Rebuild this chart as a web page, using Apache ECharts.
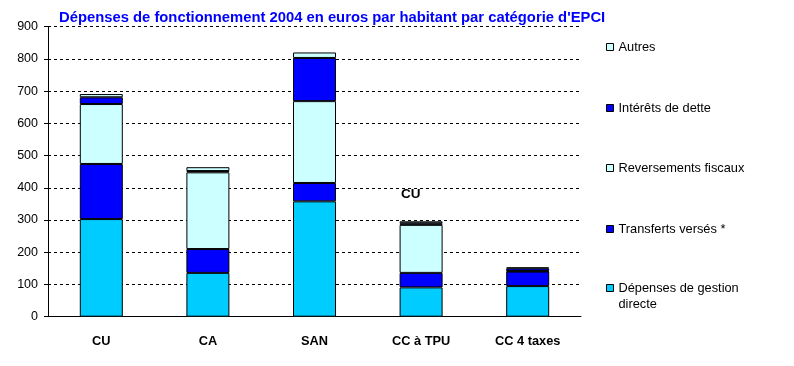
<!DOCTYPE html>
<html>
<head>
<meta charset="utf-8">
<script src="https://cdn.jsdelivr.net/npm/echarts@6/dist/echarts.min.js"></script>
<style>html,body{margin:0;padding:0;background:#fff;}#c{width:794px;height:366px;}</style>
</head>
<body>
<div id="c"></div>
<script>
const categories = ['CU', 'CA', 'SAN', 'CC à TPU', 'CC 4 taxes'];
const gestionDirecte = [303, 136, 358, 91, 95];
const transfertsVerses = [171, 74, 57, 45, 45];
const reversementsFiscaux = [186, 238, 254, 149, 2];
const interetsDette = [21, 4, 134, 5, 8];
const autres = [10, 12, 17, 6, 3];
const yTicks = [0, 100, 200, 300, 400, 500, 600, 700, 800, 900];
const titleText = "Dépenses de fonctionnement 2004 en euros par habitant par catégorie d'EPCI";
const annotationText = 'CU';

const FONT = 'Arial, "Liberation Sans", sans-serif';
const seriesDefs = [
  { name: 'Dépenses de gestion directe', data: gestionDirecte, color: '#00CCFF' },
  { name: 'Transferts versés *', data: transfertsVerses, color: '#0000FF' },
  { name: 'Reversements fiscaux', data: reversementsFiscaux, color: '#CCFFFF' },
  { name: 'Intérêts de dette', data: interetsDette, color: '#0000FF' },
  { name: 'Autres', data: autres, color: '#CCFFFF' }
];

const legendTops = { 'Autres': 40, 'Intérêts de dette': 101, 'Reversements fiscaux': 161, 'Transferts versés *': 222, 'Dépenses de gestion directe': 264 };

const chart = echarts.init(document.getElementById('c'), null, { renderer: 'canvas' });
chart.setOption({
  animation: false,
  backgroundColor: '#fff',
  title: {
    text: titleText,
    left: 59, top: 9,
    padding: 0,
    textStyle: { color: '#0000FF', fontFamily: FONT, fontSize: 14.8, fontWeight: 'bold', lineHeight: 18 }
  },
  legend: seriesDefs.map(s => ({
    data: [s.name],
    orient: 'vertical',
    left: 606,
    top: legendTops[s.name],
    padding: 0,
    selectedMode: false,
    icon: 'rect',
    itemWidth: 7,
    itemHeight: 7,
    itemGap: 4,
    itemStyle: { borderColor: '#000', borderWidth: 1 },
    formatter: n => n === 'Dépenses de gestion directe' ? '\nDépenses de gestion\ndirecte' : n,
    textStyle: s.name === 'Dépenses de gestion directe'
      ? { color: '#000', fontFamily: FONT, fontSize: 12.8, lineHeight: 16 }
      : { color: '#000', fontFamily: FONT, fontSize: 12.8, lineHeight: 14 }
  })),
  grid: { left: 48, right: 213, top: 26.7, bottom: 49.3, containLabel: false },
  xAxis: {
    type: 'category',
    data: categories,
    axisLine: { lineStyle: { color: '#000', width: 1 } },
    axisTick: { show: false },
    axisLabel: { color: '#000', fontFamily: FONT, fontSize: 12.8, fontWeight: 'bold', margin: 18 }
  },
  yAxis: {
    type: 'value',
    min: yTicks[0], max: yTicks[yTicks.length - 1], interval: 100,
    axisLine: { show: true, lineStyle: { color: '#000', width: 1 } },
    axisTick: { show: true, length: 4, lineStyle: { color: '#000' } },
    axisLabel: { color: '#000', fontFamily: FONT, fontSize: 12.5, margin: 10 },
    splitLine: { show: true, lineStyle: { color: '#000', type: [3, 3], width: 1 } }
  },
  series: seriesDefs.map(s => ({
    name: s.name,
    type: 'bar',
    stack: 'total',
    barWidth: 43,
    data: s.data,
    itemStyle: { color: s.color, borderColor: '#000', borderWidth: 1 }
  })),
  graphic: [{
    type: 'text',
    left: 401, top: 187,
    style: { text: annotationText, fill: '#000', font: 'bold 13.5px ' + FONT }
  }]
});
</script>
</body>
</html>
